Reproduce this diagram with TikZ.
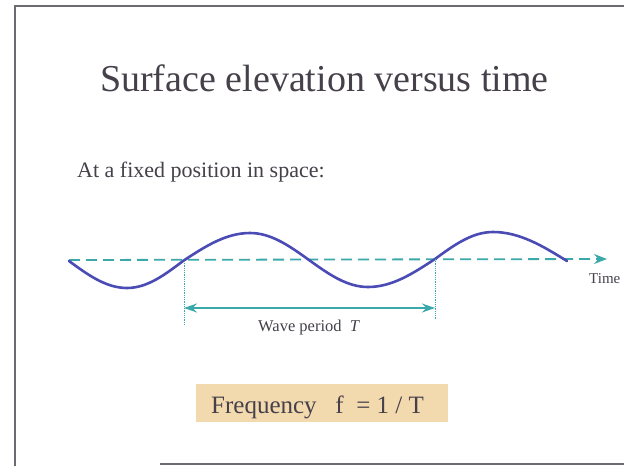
\documentclass[tikz,border=0pt]{standalone}
\usepackage{fontspec}
\setmainfont{Liberation Serif}
\usetikzlibrary{arrows.meta}
\definecolor{wavecol}{HTML}{4B4BB5}
\definecolor{tealc}{HTML}{3BA9A9}
\definecolor{txtc}{HTML}{45404A}
\definecolor{boxc}{HTML}{F3D9AE}
\definecolor{framec}{HTML}{6E6A72}
\tikzset{
  lbl/.style={inner sep=0pt, text=txtc, anchor=base west},
  guide/.style={tealc, line width=0.8pt, densely dotted},
  per/.style={tealc, line width=1.5pt},
}
\begin{document}
\begin{tikzpicture}[x=1pt,y=-1pt]
\useasboundingbox (0,0) rectangle (624,466);
\fill[white] (0,0) rectangle (624,466);
% frame
\draw[framec, line width=2pt] (15,466) -- (15,6) -- (624,6);
\draw[framec, line width=2pt] (160,464) -- (624,464);
% texts
\node[lbl, font=\fontsize{38}{42}\selectfont] (title) at (100,91) {Surface elevation versus time};
\node[lbl, font=\fontsize{22}{26}\selectfont] (sub) at (77,177) {At a fixed position in space:};
% axis
\coordinate (a0) at (69,260);
\coordinate (a1) at (607,259);
\draw[tealc, line width=1.8pt, dash pattern=on 11pt off 6pt, -{Stealth[length=13pt,width=10pt]}] (a0) -- (a1);
\node[lbl, font=\fontsize{15}{18}\selectfont] (time) at (589,283) {Time};
% wave
\draw[wavecol, line width=2.6pt, line cap=round]
  (69,261) sin (127,288) cos (183,261) sin (250,233) cos (309,260)
  sin (368,287) cos (435,259) sin (493,232) cos (567,261);
% guides
\coordinate (g1t) at (184,261);
\coordinate (g1b) at (184,325);
\coordinate (g2t) at (435,259);
\coordinate (g2b) at (435,319);
\draw[guide] (g1t) -- (g1b);
\draw[guide] (g2t) -- (g2b);
\coordinate (p1) at (184,308);
\coordinate (p2) at (435,308);
\draw[per, {Stealth[length=13pt,width=9pt]}-{Stealth[length=13pt,width=9pt]}] (p1) -- (p2);
\node[lbl, font=\fontsize{16.5}{20}\selectfont] (wp) at (258,331) {Wave period\ \ \textit{T}};
% frequency box
\node[fill=boxc, minimum width=252pt, minimum height=38pt, inner sep=0pt] (fbox) at (322,403) {};
\node[lbl, font=\fontsize{25}{29}\selectfont] (freq) at (211,413) {Frequency\ \ \ f\ \ = 1 / T};
\end{tikzpicture}
\end{document}
